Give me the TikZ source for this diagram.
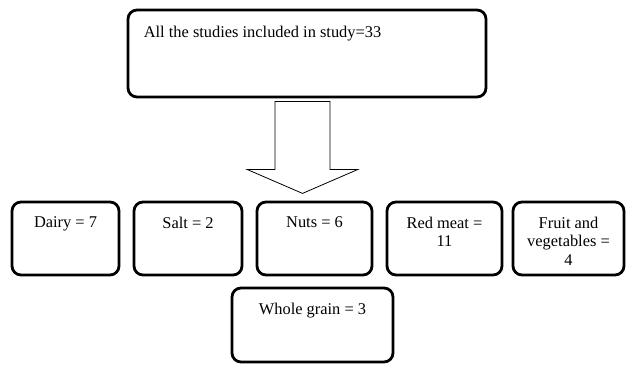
\documentclass[tikz,border=0pt]{standalone}
\usepackage{fontspec}
\setmainfont{Liberation Serif}
\usetikzlibrary{calc}
\tikzset{
  box/.style={rectangle, draw=black, rounded corners=9pt, line width=2.8pt,
              minimum height=73pt, inner sep=0pt},
  lbl/.style={anchor=north, yshift=-16pt, inner sep=0pt, align=center,
              font=\fontsize{16.4}{18.8}\selectfont},
  bigarrow/.style={draw=black, line width=0.8pt, fill=white},
}

\begin{document}
\begin{tikzpicture}[x=1pt, y=1pt]
  \useasboundingbox (0,0) rectangle (626,365);
  % total
  \node[box, minimum width=358pt, minimum height=87pt] (total) at (307,311.5) {};
  \node[lbl, anchor=north west] (totaltext) at ($(total.north west)+(17,-1)$)
    {All the studies included in study=33};
  % hollow arrow
  \coordinate (atop) at ($(total.south)+(-4.5,-3)$);
  \draw[bigarrow] ($(atop)+(-27.5,0)$) -- ($(atop)+(27.5,0)$) -- ++(0,-68)
    -- ++(28,0) -- ($(atop)+(0,-92)$) -- ($(atop)+(-55.5,-68)$)
    -- ++(28,0) -- cycle;
  % food groups
  \node[box, minimum width=107pt, label={[lbl]north:Dairy = 7}] (dairy) at (65.5,126.5) {};
  \node[box, minimum width=108pt, label={[lbl]north:Salt = 2}] (salt) at (188,126.5) {};
  \node[box, minimum width=115pt, label={[lbl]north:Nuts = 6}] (nuts) at (314.5,126.5) {};
  \node[box, minimum width=115pt, label={[lbl]north:Red meat =\\11}] (meat) at (444.5,126.5) {};
  \node[box, minimum width=111pt, label={[lbl]north:Fruit and\\vegetables =\\4}] (fruit) at (568.5,126.5) {};
  \node[box, minimum width=161pt, minimum height=74pt, label={[lbl]north:Whole grain = 3}] (grain) at (312.5,40) {};
\end{tikzpicture}
\end{document}
